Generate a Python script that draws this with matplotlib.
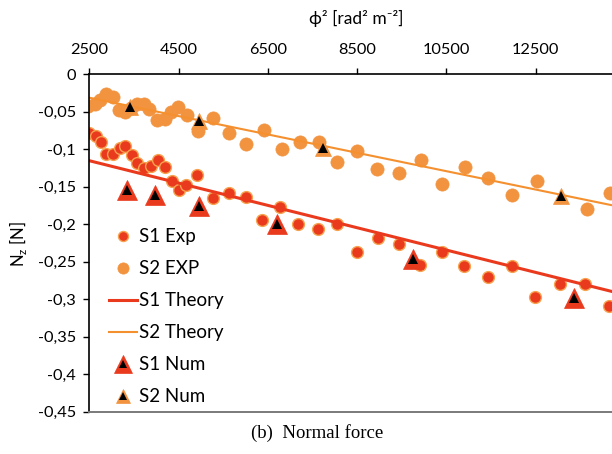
"""Normal force N_z against phi^2: experiment, theory and numerical results."""
import matplotlib
matplotlib.use("Agg")
import matplotlib.pyplot as plt

FONT = ["Lato", "DejaVu Sans"]
plt.rcParams["font.family"] = FONT

RED = "#EA3A1E"
RED_EDGE = "#F6A24E"
ORANGE = "#F2933F"
ORANGE_LINE = "#F5902F"

# S1 experiment
s1_exp_x = [2500, 2650, 2755, 2874, 3038, 3188, 3300, 3450, 3575, 3725, 3875, 4034,
            4196, 4346, 4503, 4666, 4906, 5278, 5636, 6010, 6368, 6778, 7182, 7623,
            8055, 8503, 8960, 9437, 9908, 10407, 10893, 11438, 11962, 12495, 13044,
            13604, 14148]
s1_exp_y = [-0.079, -0.083, -0.091, -0.107, -0.106, -0.098, -0.096, -0.108, -0.119,
            -0.125, -0.122, -0.115, -0.124, -0.142, -0.154, -0.148, -0.135, -0.165,
            -0.159, -0.164, -0.195, -0.177, -0.200, -0.207, -0.200, -0.237, -0.219,
            -0.227, -0.254, -0.237, -0.256, -0.270, -0.256, -0.297, -0.280, -0.280,
            -0.309]

# S2 experiment
s2_exp_x = [2482, 2628, 2740, 2874, 3031, 3165, 3300, 3434, 3568, 3725, 3848, 4028,
            4196, 4330, 4498, 4688, 4942, 5278, 5636, 6010, 6418, 6817, 7220, 7645,
            8055, 8503, 8956, 9431, 9930, 10400, 10922, 11438, 11962, 12522, 13642,
            14164]
s2_exp_y = [-0.043, -0.040, -0.035, -0.027, -0.031, -0.048, -0.051, -0.045, -0.040,
            -0.040, -0.047, -0.061, -0.060, -0.051, -0.044, -0.055, -0.076, -0.059,
            -0.079, -0.093, -0.074, -0.100, -0.090, -0.090, -0.117, -0.102, -0.126,
            -0.132, -0.114, -0.147, -0.124, -0.139, -0.161, -0.142, -0.180, -0.158]

# theory lines (end points)
s1_th_x = [2500, 14210]
s1_th_y = [-0.1156, -0.2900]
s2_th_x = [2500, 14210]
s2_th_y = [-0.0316, -0.1750]

# numerical results
s1_num_x = [3351, 3972, 4950, 6697, 9744, 13357]
s1_num_y = [-0.155, -0.161, -0.176, -0.200, -0.246, -0.298]
s2_num_x = [3412, 4957, 7728, 13059]
s2_num_y = [-0.044, -0.063, -0.098, -0.163]

x_ticks = [2500, 4500, 6500, 8500, 10500, 12500]
y_ticks = [0, -0.05, -0.1, -0.15, -0.2, -0.25, -0.3, -0.35, -0.4, -0.45]
y_tick_labels = ["0", "-0,05", "-0,1", "-0,15", "-0,2", "-0,25", "-0,3", "-0,35",
                 "-0,4", "-0,45"]

fig = plt.figure(figsize=(6.12, 4.54), dpi=100)
ax = fig.add_axes([0.1459, 0.0936, 0.8541, 0.7434])

h_s1e, = ax.plot(s1_exp_x, s1_exp_y, "o", ms=8.5, mfc=RED, mec=RED_EDGE, mew=1.0,
                 ls="none", label="S1 Exp")
h_s2e, = ax.plot(s2_exp_x, s2_exp_y, "o", ms=9.5, mfc=ORANGE, mec=ORANGE, mew=0.5,
                 ls="none", label="S2 EXP")
h_s1t, = ax.plot(s1_th_x, s1_th_y, color=RED, lw=2.2, label="S1 Theory")
h_s2t, = ax.plot(s2_th_x, s2_th_y, color=ORANGE_LINE, lw=1.5, label="S2 Theory")

o1, = ax.plot(s1_num_x, s1_num_y, "^", ms=15, mfc=RED, mec=RED, mew=0.5, ls="none")
i1, = ax.plot(s1_num_x, s1_num_y, "^", ms=7, mfc="black", mec="black", mew=0, ls="none")
o2, = ax.plot(s2_num_x, s2_num_y, "^", ms=12, mfc=ORANGE, mec=ORANGE, mew=0.5, ls="none")
i2, = ax.plot(s2_num_x, s2_num_y, "^", ms=6.5, mfc="black", mec="black", mew=0, ls="none")

ax.set_xlim(2500, 14210)
ax.set_ylim(-0.45, 0)
ax.xaxis.tick_top()
ax.set_xticks(x_ticks)
ax.set_xticklabels([str(v) for v in x_ticks])
ax.set_yticks(y_ticks)
ax.set_yticklabels(y_tick_labels)
ax.tick_params(axis="both", direction="out", length=4.5, width=1.0, labelsize=11.8,
               colors="black")
ax.tick_params(axis="x", pad=8)
ax.tick_params(axis="y", pad=5)

ax.spines["right"].set_visible(False)
ax.spines["top"].set_linewidth(1.2)
ax.spines["left"].set_linewidth(1.2)
ax.spines["bottom"].set_color("#7a7a7a")
ax.spines["bottom"].set_linewidth(1.4)

fig.text(0.582, 0.960, "ϕ² [rad² m⁻²]", ha="center", va="center", fontsize=12.5,
         family=FONT)
fig.text(0.030, 0.462, "N$_\\mathregular{z}$ [N]", ha="center", va="center",
         rotation=90, fontsize=12)
fig.text(0.518, 0.047, "(b)  Normal force", ha="center", va="center", fontsize=13.5,
         family=["Liberation Serif", "DejaVu Serif"])

leg = ax.legend([h_s1e, h_s2e, h_s1t, h_s2t, (o1, i1), (o2, i2)],
                ["S1 Exp", "S2 EXP", "S1 Theory", "S2 Theory", "S1 Num", "S2 Num"],
                loc="upper left", bbox_to_anchor=(0.178, 0.497),
                bbox_transform=fig.transFigure, frameon=False, fontsize=13.5,
                handlelength=1.5, handletextpad=0.1, labelspacing=0.8,
                borderpad=0.0, borderaxespad=0.0, markerscale=0.85)

fig.savefig("out.png", dpi=100)
